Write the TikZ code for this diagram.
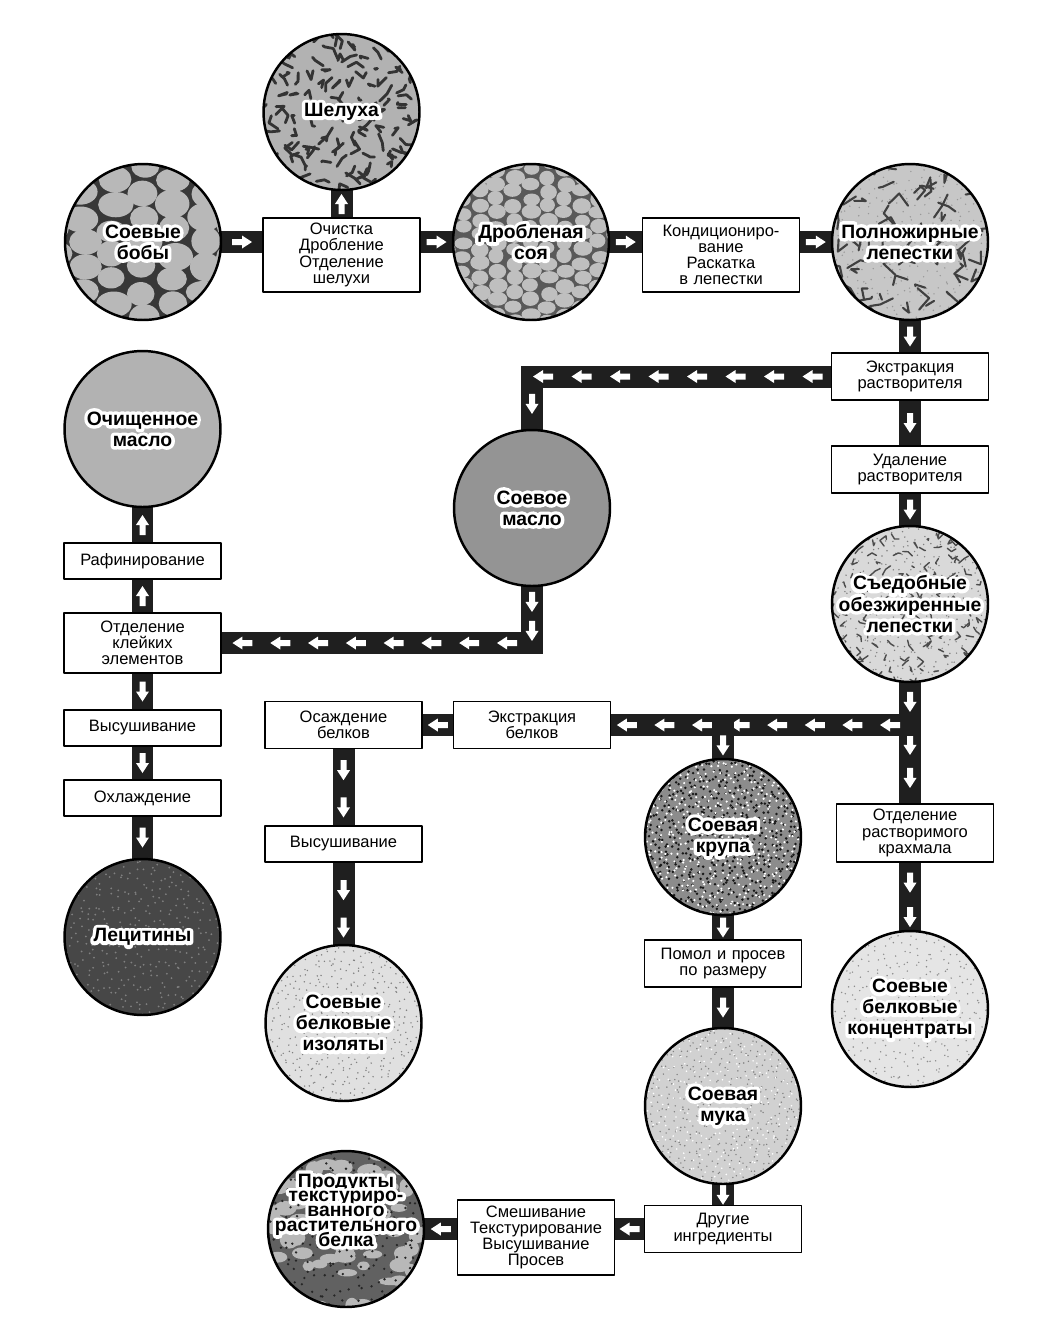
\documentclass[tikz,border=0pt]{standalone}
\usepackage{fontspec}
\setmainfont{Liberation Sans}
\newfontface\halofont[FakeBold=36, Color=FFFFFF]{Liberation Sans Bold}
\usepackage{tikz}
\usetikzlibrary{decorations.markings}
\usetikzlibrary{backgrounds}
\pgfdeclarelayer{grain}
\pgfsetlayers{background,grain,main}

% white outline round the circle labels
\newcommand\hal[1]{\leavevmode\makebox[0pt][l]{\halofont #1}#1}
% white arrow inside a pipe
\newcommand\warr{\fill[white] (-10,-3) -- (0,-3) -- (0,-6.5) -- (10,0) -- (0,6.5) -- (0,3) -- (-10,3) -- cycle;}
% textures
\newcommand\beangrid[6]{\foreach \i in {-#6,...,#6}{\foreach \j in {-#6,...,#6}{\fill[#1] ({(\i+0.1*rand)*#2},{(\j+0.5*mod(\i+10,2)+0.1*rand)*#3}) ellipse [x radius={#4*(1+0.15*rand)}, y radius={#5*(1+0.15*rand)}];}}}
\newcommand\flakes[5]{\foreach \i in {-#5,...,#5}{\foreach \j in {-#5,...,#5}{\draw[#1, line width=#2, line cap=round, line join=round] ({(\i+0.5*rand)*#4},{(\j+0.5*rand)*#4}) -- ++({#3*rand},{#3*rand}) -- ++({#3*rand},{#3*rand});}}}
\newcommand\specks[4]{\foreach \i in {-#4,...,#4}{\foreach \j in {-#4,...,#4}{\fill[#1] ({(\i+0.5*rand)*#2},{(\j+0.5*rand)*#2}) circle [radius=#3];}}}
\newcommand\blobs[4]{\foreach \k in {1,...,#1}{\fill[#2] ({80*rand},{80*rand}) ellipse [x radius={#3*(1+0.4*rand)}, y radius={#4*(1+0.4*rand)}];}}
% fill and texture of a circle, under its outline and text
\newcommand\grain[3]{\begin{pgfonlayer}{grain}\begin{scope}
  \clip (#1.center) circle [radius=78];
  \fill[#2] (#1.center) circle [radius=80];
  \begin{scope}[shift={(#1.center)}]#3\end{scope}
  \end{scope}\end{pgfonlayer}}

\begin{document}
\begin{tikzpicture}[x=0.02cm, y=-0.02cm, line join=round,
    circ/.style={circle, draw, line width=1.4pt, minimum size=3.12cm, inner sep=0pt, outer sep=0pt, align=center,
      font={\bfseries\fontsize{11}{12}\selectfont\lineskiplimit=-20pt}},
    lab/.style={align=center, inner sep=0pt, font={\bfseries\fontsize{11}{8.4}\selectfont\lineskiplimit=-20pt}},
    box/.style={draw, line width=0.8pt, fill=white, minimum width=3.14cm, text width=3.05cm, align=center,
      inner sep=0pt, outer sep=0pt, font={\fontsize{9.4}{9.2}\selectfont\lineskiplimit=-20pt}},
    pipe/.style={line width=0.44cm, draw=black!88, line join=miter, shorten <=-2pt, shorten >=-2pt},
    flow/.style={postaction={decorate, decoration={markings, mark=at position #1 with {\warr}}}},
    flows/.style n args={3}{postaction={decorate, decoration={markings, mark=between positions #1 and #2 step #3 with {\warr}}}}]
    \pgfmathsetseed{17}
    \useasboundingbox (0,0) rectangle (1044,1319);

    % Beans, hulls and flakes
    \node[circ] (beans) at (143,242) {\hal{Соевые}\\\hal{бобы}};
    \node[box, minimum height=1.48cm] (clean) at (341.5,255) {Очистка\\Дробление\\Отделение\\шелухи};
    \node[circ] (husk) at (341.5,112) {\hal{Шелуха}};
    \node[circ] (crushed) at (531,242) {\hal{Дробленая}\\\hal{соя}};
    \node[box, minimum height=1.48cm] (cond) at (721,255) {Кондициониро-\\вание\\Раскатка\\в лепестки};
    \node[circ] (fullfat) at (910,242) {\hal{Полножирные}\\\hal{лепестки}};

    % Solvent line
    \node[box, minimum height=0.94cm] (solvext) at (910,376.5) {Экстракция\\растворителя};
    \node[box, minimum height=0.94cm] (desolv) at (910,469.5) {Удаление\\растворителя};
    \node[circ] (defat) at (910,604) {\hal{Съедобные}\\\hal{обезжиренные}\\\hal{лепестки}};

    % Oil line
    \node[circ] (oil) at (532,508) {\hal{Соевое}\\\hal{масло}};
    \node[box, minimum height=1.2cm] (degum) at (142.5,643) {Отделение\\клейких\\элементов};
    \node[box, minimum height=0.72cm] (refine) at (142.5,561) {Рафинирование};
    \node[circ] (refoil) at (142.5,429) {\hal{Очищенное}\\\hal{масло}};
    \node[box, minimum height=0.72cm] (dryA) at (142.5,728) {Высушивание};
    \node[box, minimum height=0.72cm] (cool) at (142.5,798) {Охлаждение};
    \node[circ] (lecith) at (142.5,937) {\hal{Лецитины}};

    % Protein line
    \node[box, minimum height=0.94cm] (protext) at (532,725) {Экстракция\\белков};
    \node[box, minimum height=0.94cm] (precip) at (343.5,725) {Осаждение\\белков};
    \node[box, minimum height=0.72cm] (dryB) at (343.5,844) {Высушивание};
    \node[circ] (isol) at (343.5,1023) {\hal{Соевые}\\\hal{белковые}\\\hal{изоляты}};
    \node[box, minimum height=1.16cm] (starch) at (915,833) {Отделение\\растворимого\\крахмала};
    \node[circ] (conc) at (910,1009) {\hal{Соевые}\\\hal{белковые}\\\hal{концентраты}};

    % Grits, flour and textured protein
    \node[circ] (grits) at (723,837) {\hal{Соевая}\\\hal{крупа}};
    \node[box, minimum height=0.94cm] (mill) at (723,963.5) {Помол и просев\\по размеру};
    \node[circ] (flour) at (723,1106) {\hal{Соевая}\\\hal{мука}};
    \node[box, minimum height=0.94cm] (other) at (723,1229) {Другие\\ингредиенты};
    \node[box, minimum height=1.5cm] (mix) at (536,1237.5) {Смешивание\\Текстурирование\\Высушивание\\Просев};
    \node[circ] (tvp) at (346,1229) {};
    \node[lab] (tvptext) at (346,1210) {\hal{Продукты}\\\hal{текстуриро-}\\\hal{ванного}\\\hal{растительного}\\\hal{белка}};

    % Textures
    \grain{beans}{black!78}{\beangrid{black!28}{30}{25}{15.5}{12.5}{3}}
    \grain{husk}{black!30}{\flakes{black!80}{1.6pt}{9}{14}{6}}
    \grain{crushed}{black!65}{\beangrid{black!25}{17}{14.5}{8.5}{6.8}{6}}
    \grain{fullfat}{black!22}{\specks{black!40}{9}{0.8}{9}\flakes{black!75}{1.2pt}{13}{20}{4}}
    \grain{defat}{black!15}{\specks{black!50}{8}{0.8}{10}\flakes{black!70}{0.8pt}{6}{13}{6}}
    \grain{oil}{black!42}{}
    \grain{refoil}{black!30}{}
    \grain{lecith}{black!72}{\specks{black!50}{8}{1}{10}}
    \grain{isol}{black!12}{\specks{black!50}{7}{0.8}{12}}
    \grain{conc}{black!10}{\specks{black!45}{8}{0.8}{10}}
    \grain{grits}{black!45}{\specks{black!90}{6}{1.4}{13}\specks{white}{7}{1.2}{12}}
    \grain{flour}{black!18}{\specks{black!50}{7}{0.8}{12}\specks{white}{9}{0.9}{9}}
    \grain{tvp}{black!62}{\blobs{70}{black!28}{9}{6}\specks{black!85}{10}{1.3}{8}}

    % Pipes
    \begin{scope}[on background layer]
    \fill[white] (0,0) rectangle (1044,1319);
    \draw[pipe, flow=.5] (beans.east) -- (beans.east -| clean.west);
    \draw[pipe, flow=.5] (clean.north) -- (husk.south);
    \draw[pipe, flow=.5] (crushed.west -| clean.east) -- (crushed.west);
    \draw[pipe, flow=.5] (crushed.east) -- (crushed.east -| cond.west);
    \draw[pipe, flow=.5] (fullfat.west -| cond.east) -- (fullfat.west);
    \draw[pipe, flow=.5] (fullfat.south) -- (solvext.north);
    \draw[pipe, flow=.5] (solvext.south) -- (desolv.north);
    \draw[pipe, flow=.5] (desolv.south) -- (defat.north);
    \draw[pipe, flows={0.38cm}{6.8cm}{0.77cm}] (solvext.west) -| (oil.north);
    \draw[pipe, flow=0.32cm, flow=0.9cm, flows={1.64cm}{7cm}{0.756cm}] (oil.south) |- (degum.east);
    \draw[pipe, flow=.5] (degum.north) -- (refine.south);
    \draw[pipe, flow=.5] (refine.north) -- (refoil.south);
    \draw[pipe, flow=.5] (degum.south) -- (dryA.north);
    \draw[pipe, flow=.5] (dryA.south) -- (cool.north);
    \draw[pipe, flow=.5] (cool.south) -- (lecith.north);
    \draw[pipe, flow=0.4cm, flow=1.26cm, flow=1.92cm] (defat.south) -- (defat.south |- starch.north);
    \draw[pipe, flows={0.4cm}{5.8cm}{0.752cm}] (defat.south |- protext.east) -- (protext.east);
    \draw[pipe, flow=.6] (grits.north |- protext.east) -- (grits.north);
    \draw[pipe, flow=.5] (protext.west) -- (precip.east);
    \draw[pipe, flow=.28, flow=.76] (precip.south) -- (dryB.north);
    \draw[pipe, flow=.34, flow=.79] (dryB.south) -- (isol.north);
    \draw[pipe, flow=.3, flow=.8] (conc.north |- starch.south) -- (conc.north);
    \draw[pipe, flow=.5] (grits.south) -- (mill.north);
    \draw[pipe, flow=.5] (mill.south) -- (flour.north);
    \draw[pipe, flow=.5] (flour.south) -- (other.north);
    \draw[pipe, flow=.5] (other.west) -- (other.west -| mix.east);
    \draw[pipe, flow=.5] (tvp.east -| mix.west) -- (tvp.east);
    \end{scope}
\end{tikzpicture}
\end{document}
